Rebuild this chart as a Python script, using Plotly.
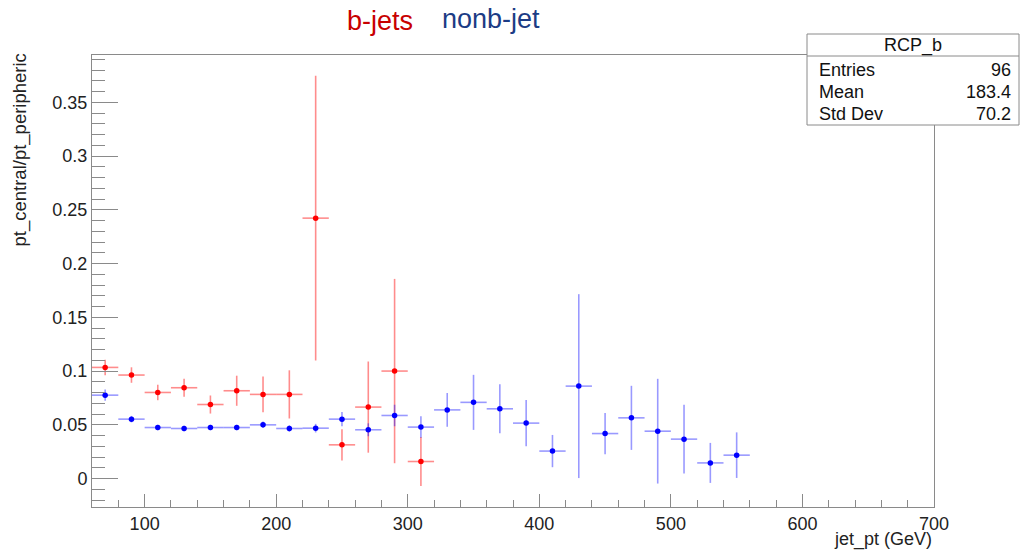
import plotly.graph_objects as go

# ---- data ----
bin_half_width = 10
blue_x = [70, 90, 110, 130, 150, 170, 190, 210, 230, 250, 270, 290, 310,
          330, 350, 370, 390, 410, 430, 450, 470, 490, 510, 530, 550]
blue_vals = [0.0777, 0.0554, 0.0476, 0.0467, 0.0476, 0.0476, 0.0501, 0.0467, 0.047,
             0.0554, 0.0455, 0.0588, 0.048, 0.064, 0.071, 0.065, 0.0517, 0.0257,
             0.0861, 0.042, 0.0566, 0.0442, 0.0368, 0.0147, 0.0219]
blue_err = [0.0053, 0.003, 0.0025, 0.0025, 0.0025, 0.0025, 0.003, 0.003, 0.004,
            0.0067, 0.006, 0.010, 0.010, 0.0157, 0.0256, 0.0228, 0.0216, 0.015,
            0.0855, 0.0192, 0.0298, 0.0487, 0.032, 0.0186, 0.0212]

red_x = [70, 90, 110, 130, 150, 170, 190, 210, 230, 250, 270, 290, 310]
red_vals = [0.1035, 0.0964, 0.0802, 0.0846, 0.069, 0.0818, 0.0784, 0.0784,
            0.2423, 0.0315, 0.0666, 0.1001, 0.016]
red_err = [0.0072, 0.0072, 0.0072, 0.0084, 0.0084, 0.014, 0.0166, 0.0224,
           0.1323, 0.0146, 0.0424, 0.0857, 0.0228]

y_tickvals = [0, 0.05, 0.1, 0.15, 0.2, 0.25, 0.3, 0.35]
y_ticktext = ["0", "0.05", "0.1", "0.15", "0.2", "0.25", "0.3", "0.35"]
x_tickvals = [100, 200, 300, 400, 500, 600, 700]

stats_title = "RCP_b"
stats_names = ["Entries", "Mean", "Std Dev"]
stats_values = ["96", "183.4", "70.2"]

FONT = "Liberation Sans, Arial, sans-serif"
W, H = 1025, 559
L, R, T, B = 92, 91, 55, 52
PW, PH = W - L - R, H - T - B


def px(xp):
    return (xp - L) / PW


def py(yp):
    return (H - B - yp) / PH


fig = go.Figure()

fig.add_trace(go.Scatter(
    x=red_x, y=red_vals, mode="markers", name="b-jets",
    marker=dict(color="#ff0000", size=5.5),
    error_x=dict(type="constant", value=bin_half_width, width=0,
                 color="rgba(255,0,0,0.45)", thickness=1.6),
    error_y=dict(type="data", array=red_err, width=0,
                 color="rgba(255,0,0,0.45)", thickness=1.6),
    showlegend=False))

fig.add_trace(go.Scatter(
    x=blue_x, y=blue_vals, mode="markers", name="nonb-jet",
    marker=dict(color="#0000ff", size=5.5),
    error_x=dict(type="constant", value=bin_half_width, width=0,
                 color="rgba(0,0,255,0.4)", thickness=1.6),
    error_y=dict(type="data", array=blue_err, width=0,
                 color="rgba(0,0,255,0.4)", thickness=1.6),
    showlegend=False))

axis_color = "#8a8a8a"
fig.update_xaxes(
    range=[60, 700], tickvals=x_tickvals, ticks="inside", ticklen=13,
    tickcolor=axis_color, tickwidth=1, showline=True, linecolor=axis_color,
    linewidth=1, mirror=True, showgrid=False, zeroline=False,
    tickfont=dict(family=FONT, size=18, color="#222"),
    minor=dict(dtick=20, tick0=0, ticks="inside", ticklen=7,
               tickcolor=axis_color, tickwidth=1, showgrid=False),
)
fig.update_yaxes(
    range=[-0.0263, 0.394], tickvals=y_tickvals, ticktext=y_ticktext,
    ticks="inside", ticklen=26, tickcolor=axis_color, tickwidth=1,
    showline=True, linecolor=axis_color, linewidth=1, mirror=True,
    showgrid=False, zeroline=False,
    tickfont=dict(family=FONT, size=18, color="#222"),
    minor=dict(dtick=0.01, tick0=0, ticks="inside", ticklen=13,
               tickcolor=axis_color, tickwidth=1, showgrid=False),
)

annotations = [
    dict(text="jet_pt (GeV)", x=1.0, y=py(539), xref="paper", yref="paper",
         xanchor="right", yanchor="middle", showarrow=False,
         font=dict(family=FONT, size=18, color="#222")),
    dict(text="pt_central/pt_peripheric", x=px(19), y=py(52), xref="paper",
         yref="paper", xanchor="center", yanchor="top", textangle=-90,
         showarrow=False, font=dict(family=FONT, size=18.5, color="#222")),
    dict(text="b-jets", x=px(380), y=py(21), xref="paper", yref="paper",
         xanchor="center", yanchor="middle", showarrow=False,
         font=dict(family=FONT, size=27, color="#c80000")),
    dict(text="nonb-jet", x=px(491), y=py(19), xref="paper", yref="paper",
         xanchor="center", yanchor="middle", showarrow=False,
         font=dict(family=FONT, size=27, color="#1c3c85")),
    dict(text=stats_title, x=px(913), y=py(45), xref="paper", yref="paper",
         xanchor="center", yanchor="middle", showarrow=False,
         font=dict(family=FONT, size=18, color="#111")),
]
row_y = [70, 92, 114]
for name, val, ry in zip(stats_names, stats_values, row_y):
    annotations.append(dict(text=name, x=px(817), y=py(ry), xref="paper",
                            yref="paper", xanchor="left", yanchor="middle",
                            showarrow=False,
                            font=dict(family=FONT, size=18, color="#111")))
    annotations.append(dict(text=val, x=px(1013), y=py(ry), xref="paper",
                            yref="paper", xanchor="right", yanchor="middle",
                            showarrow=False,
                            font=dict(family=FONT, size=18, color="#111")))

shapes = [
    dict(type="rect", xref="paper", yref="paper", x0=px(807), x1=px(1019),
         y0=py(125), y1=py(34), line=dict(color=axis_color, width=1),
         fillcolor="white", layer="above"),
    dict(type="line", xref="paper", yref="paper", x0=px(807), x1=px(1019),
         y0=py(56), y1=py(56), line=dict(color=axis_color, width=1),
         layer="above"),
]

fig.update_layout(
    width=W, height=H, autosize=False,
    margin=dict(l=L, r=R, t=T, b=B),
    paper_bgcolor="white", plot_bgcolor="white",
    annotations=annotations, shapes=shapes,
)

fig.write_html("out.html",
               config={"displayModeBar": False},
               post_script="document.body.style.margin='0px';"
                           "document.body.style.overflow='hidden';")
